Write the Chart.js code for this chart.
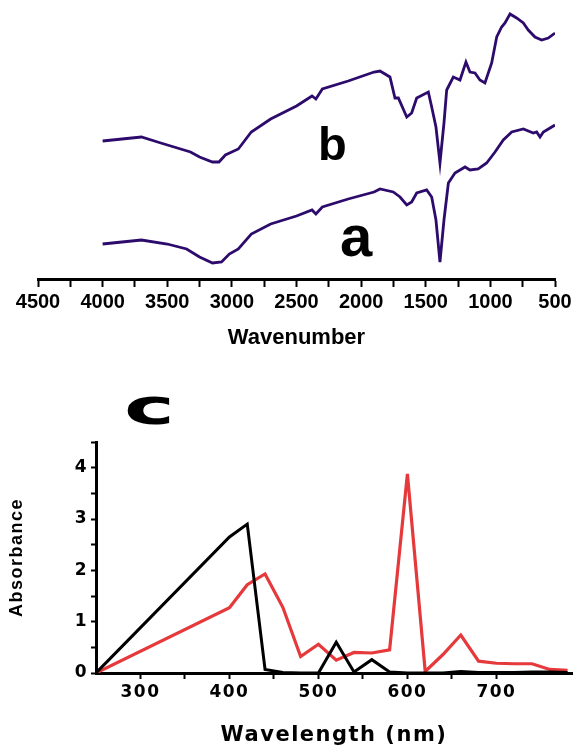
<!DOCTYPE html>
<html><head><meta charset="utf-8">
<script src="https://cdn.jsdelivr.net/npm/chart.js@4.4.1/dist/chart.umd.min.js"></script>
<style>
html,body{margin:0;padding:0;background:#fff;}
#wrap{position:relative;width:578px;height:748px;overflow:hidden;background:#fff;}
#topChart{position:absolute;left:0;top:0;width:578px;height:360px;}
#botChart{position:absolute;left:0;top:380px;width:578px;height:368px;}
.lbl{position:absolute;font-family:"Liberation Sans",Arial,sans-serif;font-weight:bold;line-height:1;color:#000;white-space:nowrap;}
</style></head><body>
<div id="wrap">
<canvas id="topChart" width="578" height="360"></canvas>
<canvas id="botChart" width="578" height="368"></canvas>
<div class="lbl" style="left:318px;top:120px;font-size:47px;">b</div>
<div class="lbl" style="left:340px;top:207px;font-size:58px;">a</div>
<div class="lbl" style="left:124px;top:383px;font-size:49px;font-family:'DejaVu Sans',sans-serif;transform:scaleX(1.75);transform-origin:left top;">c</div>
</div>
<script>
// ---- FTIR spectra (wavenumber, cm-1) : relative transmittance (arbitrary units) ----
const waveA  = [4000,3850,3700,3500,3350,3250,3150,3080,3020,2950,2850,2700,2500,2380,2350,2300,2100,1900,1854,1751,1699,1647,1609,1570,1493,1454,1421,1390,1359,1325,1274,1196,1158,1094,1029,964,900,835,745,668,642,616,590,500];
const transA = [35,37,39,35,30,22,16,17,25,30,45,55,63,69,65,72,80,87,90,87,82,74,77,86,89,82,59,17,59,96,106,112,109,110,116,127,139,147,150,146,147,142,147,154];
const waveB  = [4000,3850,3700,3550,3320,3250,3150,3100,3050,2950,2850,2700,2500,2380,2350,2300,2100,1900,1854,1777,1738,1712,1647,1609,1570,1480,1454,1421,1390,1359,1338,1287,1235,1189,1158,1119,1081,1042,990,951,913,887,848,797,745,707,655,603,552,500];
const transB = [138,140,142,136,127,122,117,117,124,130,147,160,173,183,180,190,198,207,208,202,181,181,162,166,181,187,172,152,116,156,189,202,199,217,207,206,199,196,216,242,252,256,265,261,256,249,242,239,241,246];
const ftirTicks = [4500,4000,3500,3000,2500,2000,1500,1000,500];

// ---- UV-Vis absorbance ----
const wavelengths = [250,400,420,440,460,480,500,520,540,560,580,600,620,640,660,680,700,720,740,760,780];
const absBlack    = [0,2.65,2.9,0.07,0.01,0,0,0.6,0.02,0.26,0.02,0,0,0,0.03,0.01,0.01,0.01,0.02,0.02,0.01];
const absRed      = [0,1.27,1.72,1.93,1.28,0.32,0.56,0.25,0.4,0.39,0.45,3.88,0.03,0.36,0.74,0.23,0.19,0.18,0.18,0.07,0.05];
const uvTicks = [300,400,500,600,700];
const absTicks = [0,1,2,3,4];

const pts = (xs, ys) => xs.map((x, i) => ({x: x, y: ys[i]}));
const purple = '#2d0b6c';

new Chart(document.getElementById('topChart'), {
  type: 'line',
  data: {datasets: [
    {label: 'b', data: pts(waveB, transB), borderColor: purple, borderWidth: 2.8, pointRadius: 0, tension: 0, fill: false},
    {label: 'a', data: pts(waveA, transA), borderColor: purple, borderWidth: 2.8, pointRadius: 0, tension: 0, fill: false}
  ]},
  options: {
    responsive: false, animation: false,
    layout: {padding: {left: 38, right: 23, top: 9, bottom: 0}},
    plugins: {legend: {display: false}, tooltip: {enabled: false}},
    scales: {
      x: {
        type: 'linear', reverse: true, min: 500, max: 4500,
        afterFit: s => { s.height = 81; },
        ticks: {stepSize: 250, autoSkip: false, maxRotation: 0, padding: 3, color: '#000',
          font: {family: 'Liberation Sans', size: 20, weight: 'bold'},
          callback: v => ftirTicks.includes(v) ? String(v) : ''},
        grid: {drawOnChartArea: false, drawTicks: true, tickLength: 8, tickColor: '#000', tickWidth: 2},
        border: {display: true, color: '#000', width: 3},
        title: {display: true, text: 'Wavenumber', color: '#000', padding: {top: 0, bottom: 9},
          font: {family: 'Liberation Sans', size: 22, weight: 'bold'}}
      },
      y: {type: 'linear', display: false, min: 0, max: 270}
    }
  }
});

const wideText = {
  id: 'wideText',
  beforeDraw(chart) { chart.ctx.letterSpacing = '1.5px'; }
};

new Chart(document.getElementById('botChart'), {
  type: 'line',
  data: {datasets: [
    {label: 'black', data: pts(wavelengths, absBlack), borderColor: '#000000', borderWidth: 3, pointRadius: 0, tension: 0, fill: false},
    {label: 'red', data: pts(wavelengths, absRed), borderColor: '#e6393c', borderWidth: 3.2, pointRadius: 0, tension: 0, fill: false}
  ]},
  plugins: [wideText],
  options: {
    responsive: false, animation: false,
    layout: {padding: {left: 0, right: 6, top: 62, bottom: 0}},
    plugins: {legend: {display: false}, tooltip: {enabled: false}},
    scales: {
      x: {
        type: 'linear', min: 250, max: 785,
        afterFit: s => { s.height = 75; },
        afterBuildTicks: s => { s.ticks = s.ticks.filter(t => t.value % 50 === 0 && t.value > 250); },
        ticks: {stepSize: 50, autoSkip: false, maxRotation: 0, padding: 3, color: '#000',
          font: {family: 'DejaVu Sans', size: 17, weight: 'bold'},
          callback: v => uvTicks.includes(v) ? String(v) : ''},
        grid: {drawOnChartArea: false, drawTicks: true, tickLength: 6, tickColor: '#000', tickWidth: 2},
        border: {display: true, color: '#000', width: 3},
        title: {display: true, text: 'Wavelength (nm)', color: '#000', padding: {top: 0, bottom: 0},
          font: {family: 'DejaVu Sans', size: 21, weight: 'bold'}}
      },
      y: {
        type: 'linear', min: 0, max: 4.5,
        afterFit: s => { s.width = 96; },
        ticks: {stepSize: 0.5, autoSkip: false, padding: 3, color: '#000',
          font: {family: 'DejaVu Sans', size: 17, weight: 'bold'},
          callback: v => absTicks.includes(v) ? String(v) : ''},
        grid: {drawOnChartArea: false, drawTicks: true, tickLength: 5, tickColor: '#000', tickWidth: 2},
        border: {display: true, color: '#000', width: 3},
        title: {display: true, text: 'Absorbance', color: '#000', padding: {top: 6, bottom: 0},
          font: {family: 'Liberation Sans', size: 18, weight: 'bold'}}
      }
    }
  }
});
</script>
</body></html>
